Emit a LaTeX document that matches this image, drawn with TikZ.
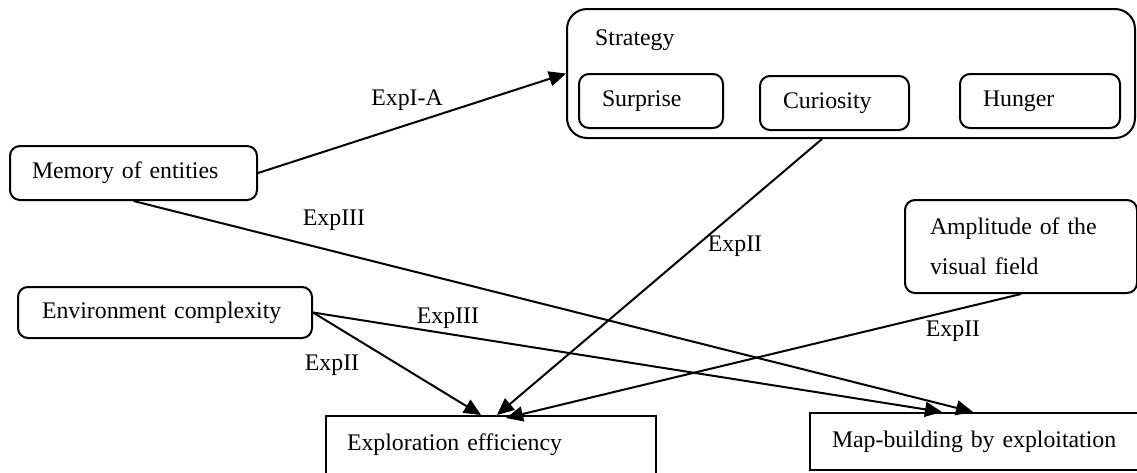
\documentclass[tikz,border=0pt]{standalone}
\usepackage{fontspec}
\setmainfont{Liberation Serif}
\usetikzlibrary{arrows.meta,calc}
\begin{document}
\begin{tikzpicture}[x=1pt,y=-1pt,
  every node/.style={font=\fontsize{23.8}{40}\selectfont},
  rbox/.style={draw, line width=2pt, rounded corners=10pt, align=left, inner ysep=0pt},
  sbox/.style={draw, line width=2pt, align=left, inner ysep=0pt},
  conn/.style={line width=2pt, -{Triangle[length=17pt,width=15pt]}},
  lab/.style={inner sep=0pt}]
\useasboundingbox (0,0) rectangle (1137,472);
% strategy group
\node[draw, line width=2pt, rounded corners=20pt, minimum width=568pt, minimum height=129pt, inner sep=0pt] (strat) at (851,73.5) {};
\node[lab, anchor=west] (stratlab) at (595,40) {Strategy};
\node[rbox, minimum width=144pt, minimum height=54pt, text width=98pt, inner xsep=23pt] (surp) at (651,101) {Surprise};
\node[rbox, minimum width=149pt, minimum height=54pt, text width=103pt, inner xsep=23pt] (cur) at (834.5,103) {Curiosity};
\node[rbox, minimum width=160pt, minimum height=54pt, text width=114pt, inner xsep=23pt] (hun) at (1040,101) {Hunger};
% other boxes
\node[rbox, minimum width=247pt, minimum height=54pt, text width=203pt, inner xsep=22pt] (mem) at (133.5,173) {Memory of entities};
\node[rbox, minimum width=294pt, minimum height=51pt, text width=246pt, inner xsep=24pt] (env) at (165,312.5) {Environment complexity};
\node[rbox, minimum width=232pt, minimum height=93pt, text width=182pt, inner xsep=25pt] (amp) at (1021,246.5) {Amplitude of the\\visual field};
\node[sbox, minimum width=330pt, minimum height=58pt, text width=288pt, inner xsep=21pt] (expl) at (491,445) {Exploration efficiency};
\node[sbox, minimum width=330pt, minimum height=57pt, text width=286pt, inner xsep=22pt] (map) at (975,441.5) {Map-building by exploitation};
% connectors
\coordinate (curout) at ($(strat.south west)+(256,0)$);
\draw[conn] (mem.east) -- (strat.west);
\draw[conn] (mem.south) -- ($(map.north west)+(164,0)$);
\draw[conn] (env.east) -- ($(map.north west)+(133,0)$);
\draw[conn] (env.east) -- ($(expl.north west)+(156,0)$);
\draw[conn] (curout) -- ($(expl.north west)+(172,0)$);
\draw[conn] (amp.south) -- ($(expl.north west)+(181,3)$);
% labels
\node[lab] (l1) at (407,100) {ExpI-A};
\node[lab] (l2) at (334,220) {ExpIII};
\node[lab] (l3) at (448,318) {ExpIII};
\node[lab] (l4) at (332,365) {ExpII};
\node[lab] (l5) at (735,246) {ExpII};
\node[lab] (l6) at (953,331) {ExpII};
\end{tikzpicture}
\end{document}
